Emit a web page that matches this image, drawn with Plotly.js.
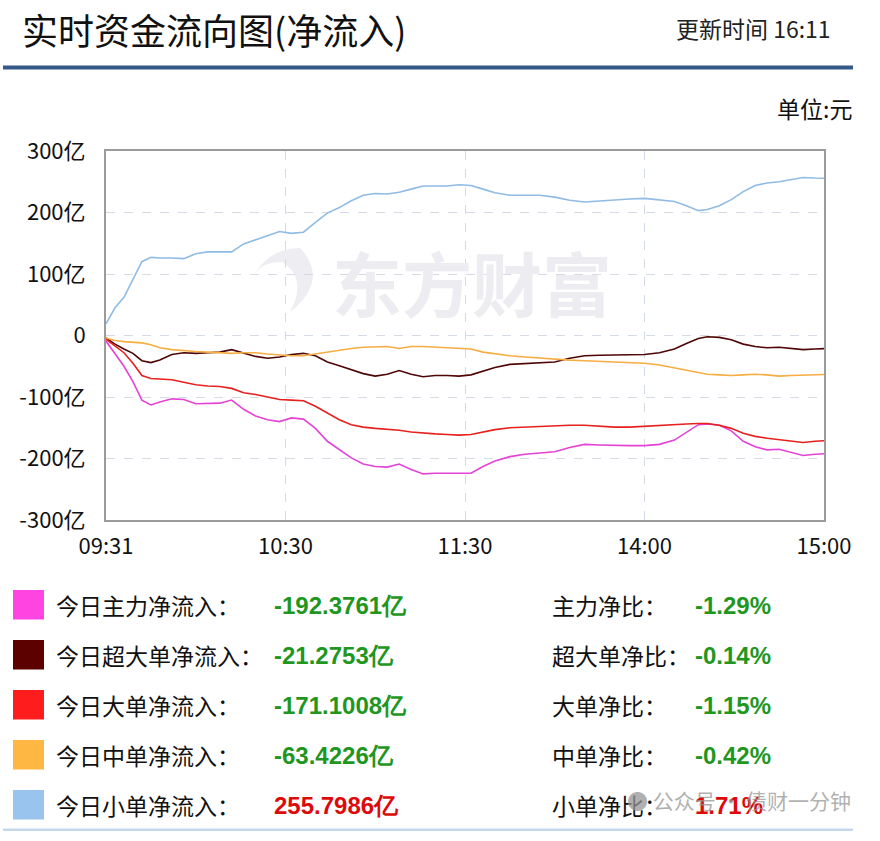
<!DOCTYPE html>
<html>
<head>
<meta charset="utf-8">
<script src="https://cdn.plot.ly/plotly-3.0.1.min.js"></script>
<style>
  html, body { margin: 0; padding: 0; background: #ffffff; }
  #chart { width: 880px; height: 841px; }
</style>
</head>
<body>
<div id="chart"></div>
<script>
// Trading minutes since 09:31 (morning 09:31-11:30, afternoon 13:01-15:00 joined end to end)
const minutes = [0,3,6,9,12,15,18,22,26,30,34,38,42,46,50,54,58,62,66,70,74,78,82,86,90,94,98,102,106,110,114,118,122,126,130,135,140,145,150,155,160,165,170,175,180,185,190,194,198,201,205,209,213,217,221,225,229,233,237,240];
const tickMinutes = [0, 60, 120, 180, 240];
const tickLabels = ['09:31', '10:30', '11:30', '14:00', '15:00'];

// Cumulative net inflow, 亿元
const mainFlow = [-9,-30,-50,-75,-105,-113,-108,-103,-104,-111,-111,-110,-105,-120,-131,-137,-140,-134,-136,-151,-172,-186,-199,-209,-213,-214,-209,-218,-225,-224,-224,-225,-224,-213,-204,-197,-193,-191,-189,-182,-177,-178,-179,-179,-179,-177,-170,-158,-145,-144,-146,-155,-172,-181,-186,-185,-190,-195,-193,-192.3761];
const superLargeFlow = [-4,-14,-22,-29,-41,-44,-40,-31,-28,-29,-28,-27,-23,-29,-34,-37,-35,-31,-29,-33,-43,-49,-55,-62,-66,-63,-57,-63,-67,-65,-65,-66,-64,-58,-52,-47,-46,-45,-43,-37,-33,-32,-32,-32,-31,-28,-22,-13,-5,-2,-3,-7,-14,-18,-20,-19,-21,-23,-22,-21.2753];
const largeFlow = [-6,-17,-28,-45,-65,-70,-71,-72,-76,-80,-82,-83,-86,-93,-96,-100,-104,-105,-106,-115,-126,-137,-145,-149,-151,-152,-154,-157,-159,-160,-161,-162,-161,-157,-153,-150,-149,-148,-146,-146,-146,-148,-149,-149,-148,-147,-145,-144,-143,-143,-146,-151,-159,-164,-167,-169,-172,-174,-172,-171.1008];
const mediumFlow = [-4,-8,-10,-11,-12,-15,-20,-23,-25,-26,-27,-28,-29,-28,-28,-30,-32,-33,-33,-30,-26,-23,-21,-19,-18,-18,-21,-18,-18,-19,-19,-20,-22,-27,-30,-33,-35,-37,-39,-40,-41,-42,-43,-44,-45,-48,-53,-57,-61,-63,-64,-65,-64,-63,-64,-66,-65,-64,-63,-63.4226];
const smallFlow = [19,45,62,90,120,127,126,126,125,133,136,136,136,149,156,162,169,166,168,184,199,208,219,228,231,230,233,238,243,243,243,245,244,238,232,228,228,228,225,220,217,219,221,222,223,221,218,211,203,205,211,221,234,244,248,250,253,257,256,255.7986];

const flowNames = ['今日主力净流入：', '今日超大单净流入：', '今日大单净流入：', '今日中单净流入：', '今日小单净流入：'];
const ratioNames = ['主力净比：', '超大单净比：', '大单净比：', '中单净比：', '小单净比：'];
const ratioValues = [-1.29, -0.14, -1.15, -0.42, 1.71];

const yTickValues = [-300, -200, -100, 0, 100, 200, 300];
const yTickLabels = ['-300亿', '-200亿', '-100亿', '0', '100亿', '200亿', '300亿'];

const seriesList = [mainFlow, superLargeFlow, largeFlow, mediumFlow, smallFlow];
const lineColors = ['#e443d6', '#4e0606', '#e6211e', '#f6ad42', '#8fbbe4'];
const swatchColors = ['#ff44e2', '#5c0000', '#ff1c1c', '#ffb743', '#99c4ee'];

// plot-area geometry in page pixels, used to place the surrounding text
const L = 106, T = 151, W = 718, H = 369;
const px = x => (x - L) / W;
const py = y => (T + H - y) / H;

const CJK = '"Noto Sans CJK SC", "Noto Sans", sans-serif';
const NUM = '"Liberation Sans", Arial, sans-serif';

const traces = seriesList.map((vals, i) => ({
  type: 'scatter',
  mode: 'lines',
  x: minutes,
  y: vals,
  line: { color: lineColors[i], width: 1.6 },
  hoverinfo: 'skip',
  showlegend: false
}));

const annotations = [];
const shapes = [];

// header
annotations.push({ text: '实时资金流向图(净流入)', xref: 'paper', yref: 'paper', x: px(20), y: py(29),
  xanchor: 'left', yanchor: 'middle', showarrow: false, font: { family: CJK, size: 36, color: '#111' } });
annotations.push({ text: '更新时间 16:11', xref: 'paper', yref: 'paper', x: px(833), y: py(28),
  xanchor: 'right', yanchor: 'middle', showarrow: false, font: { family: CJK, size: 23, color: '#222' } });
annotations.push({ text: '单位:元', xref: 'paper', yref: 'paper', x: px(854), y: py(108),
  xanchor: 'right', yanchor: 'middle', showarrow: false, font: { family: CJK, size: 23, color: '#111' } });
shapes.push({ type: 'rect', xref: 'paper', yref: 'paper', x0: px(3), x1: px(853), y0: py(65.5), y1: py(69.5),
  fillcolor: '#355a8a', line: { width: 0 } });
shapes.push({ type: 'rect', xref: 'paper', yref: 'paper', x0: px(3), x1: px(853), y0: py(828.5), y1: py(831),
  fillcolor: '#c3d8ea', line: { width: 0 } });

// brand mark behind the curves
annotations.push({ text: '<b>东方财富</b>', xref: 'paper', yref: 'paper', x: px(472), y: py(281),
  xanchor: 'center', yanchor: 'middle', showarrow: false, font: { family: CJK, size: 70, color: '#ededf1' } });
shapes.push({ type: 'path', xref: 'paper', yref: 'paper', layer: 'below',
  path: 'M ' + px(300) + ',' + py(248) + ' Q ' + px(330) + ',' + py(280) + ' ' + px(290) + ',' + py(312) +
        ' Q ' + px(308) + ',' + py(278) + ' ' + px(282) + ',' + py(262) + ' Q ' + px(262) + ',' + py(262) + ' ' + px(254) + ',' + py(275) +
        ' Q ' + px(270) + ',' + py(248) + ' ' + px(300) + ',' + py(248) + ' Z',
  fillcolor: '#eeeef2', line: { width: 0 } });

// summary rows
const rowY = [605, 655, 705, 755, 805];
seriesList.forEach((vals, i) => {
  const y = rowY[i];
  const total = vals[vals.length - 1];
  const valColor = total < 0 ? '#1f971f' : '#dd0a0a';
  shapes.push({ type: 'rect', xref: 'paper', yref: 'paper', x0: px(13), x1: px(44), y0: py(y - 15), y1: py(y + 14.5),
    fillcolor: swatchColors[i], line: { width: 0 } });
  annotations.push({ text: flowNames[i], xref: 'paper', yref: 'paper', x: px(54), y: py(y),
    xanchor: 'left', yanchor: 'middle', showarrow: false, font: { family: CJK, size: 23, color: '#111' } });
  annotations.push({ text: '<b>' + total.toFixed(4) + '亿</b>', xref: 'paper', yref: 'paper', x: px(272), y: py(y),
    xanchor: 'left', yanchor: 'middle', showarrow: false, font: { family: NUM, size: 24, color: valColor } });
  annotations.push({ text: ratioNames[i], xref: 'paper', yref: 'paper', x: px(550), y: py(y),
    xanchor: 'left', yanchor: 'middle', showarrow: false, font: { family: CJK, size: 23, color: '#111' } });
  annotations.push({ text: '<b>' + ratioValues[i].toFixed(2) + '%</b>', xref: 'paper', yref: 'paper', x: px(693), y: py(y),
    xanchor: 'left', yanchor: 'middle', showarrow: false, font: { family: NUM, size: 24, color: valColor } });
});

// account mark over the last row
annotations.push({ text: '● 公众号 · 债财一分钟', xref: 'paper', yref: 'paper', x: px(853), y: py(800),
  xanchor: 'right', yanchor: 'middle', showarrow: false, font: { family: CJK, size: 21, color: 'rgba(150,150,150,0.75)' } });

const layout = {
  width: 880,
  height: 841,
  margin: { l: L, r: 880 - L - W, t: T, b: 841 - T - H, pad: 0 },
  paper_bgcolor: '#ffffff',
  plot_bgcolor: 'rgba(0,0,0,0)',
  showlegend: false,
  xaxis: {
    range: [0, 240],
    tickvals: tickMinutes,
    ticktext: tickLabels,
    ticks: '',
    showgrid: true,
    gridcolor: '#d4dbe6',
    griddash: 'dash',
    gridwidth: 1,
    zeroline: false,
    showline: true,
    mirror: true,
    linecolor: '#9b9b9b',
    linewidth: 2,
    ticklabelstandoff: 6,
    tickfont: { family: CJK, size: 22, color: '#111' },
    fixedrange: true
  },
  yaxis: {
    range: [-300, 300],
    tickvals: yTickValues,
    ticktext: yTickLabels,
    ticks: '',
    showgrid: true,
    gridcolor: '#d4dbe6',
    griddash: 'dash',
    gridwidth: 1,
    zeroline: false,
    showline: true,
    mirror: true,
    linecolor: '#9b9b9b',
    linewidth: 2,
    ticklabelstandoff: 14,
    tickfont: { family: CJK, size: 22, color: '#111' },
    fixedrange: true
  },
  shapes: shapes,
  annotations: annotations
};

Plotly.newPlot('chart', traces, layout, { displayModeBar: false, staticPlot: true });
</script>
</body>
</html>
